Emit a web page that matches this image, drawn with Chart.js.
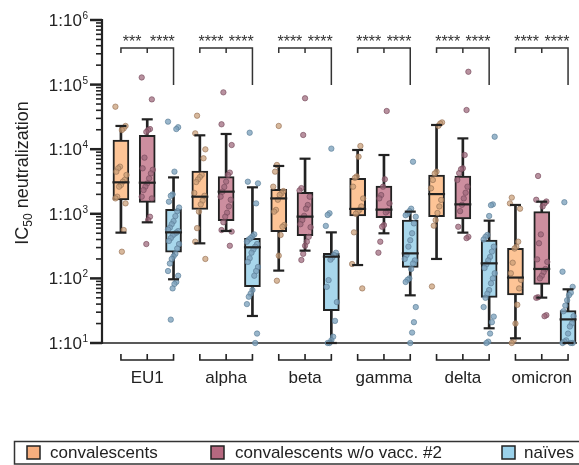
<!DOCTYPE html>
<html><head><meta charset="utf-8">
<script src="https://cdn.jsdelivr.net/npm/chart.js@4/dist/chart.umd.min.js"></script>
<style>html,body{margin:0;padding:0;background:#fff;}</style>
</head><body>
<canvas id="c" width="579" height="465"></canvas>
<script>
// ---------- data ----------
const variants = ['EU1', 'alpha', 'beta', 'gamma', 'delta', 'omicron'];
const groupNames = ['convalescents', 'convalescents w/o vacc. #2', 'naïves'];
const yTickExponents = [1, 2, 3, 4, 5, 6];
const significance = [['***', '****'], ['****', '****'], ['****', '****'], ['****', '****'], ['****', '****'], ['****', '****']];

// box stats per variant: [whisker low, Q1, median, Q3, whisker high]
const convBox = [
  [511, 1640, 3070, 13900, 22900],
  [349, 1170, 1840, 4590, 16400],
  [132, 528, 1730, 2390, 5500],
  [161, 925, 1190, 3540, 9720],
  [200, 904, 2020, 3990, 23700],
  [11.8, 55.3, 103, 292, 1370]
];
const convWoBox = [
  [738, 1500, 3030, 16400, 29000],
  [542, 783, 2200, 3760, 17200],
  [269, 459, 904, 2150, 7130],
  [499, 871, 1160, 2690, 8130],
  [511, 832, 1400, 3850, 14700],
  [50.4, 81, 140, 1080, 1540]
];
const naiveBox = [
  [96.9, 254, 516, 1170, 3660],
  [26.2, 74.5, 303, 417, 2570],
  [10, 31.7, 217, 244, 516],
  [54.7, 148, 244, 802, 1080],
  [16.9, 50.9, 171, 393, 783],
  [10, 10, 23.2, 31.7, 67.8]
];

// individual IC50 values per variant
const convPoints = [
  [45500, 22900, 21000, 19800, 5370, 5060, 4490, 3990, 3340, 3140, 2790, 2630, 1840, 1730, 1450, 561, 259],
  [33000, 17600, 9950, 7230, 4000, 3700, 3400, 3100, 2100, 1900, 1600, 1400, 1080, 600, 370, 200],
  [22900, 5700, 4490, 2630, 2250, 2070, 1960, 1650, 1150, 1080, 670, 630, 470, 225, 92],
  [11200, 7660, 3800, 3600, 2630, 1730, 1300, 1150, 1080, 1000, 516, 167, 70],
  [26000, 25000, 23000, 4490, 4200, 3340, 2480, 1640, 1300, 1030, 800, 655, 75],
  [1780, 1450, 1200, 370, 310, 290, 175, 120, 95, 70, 39, 20, 11, 10]
];
const convWoPoints = [
  [129000, 59000, 20500, 19800, 18500, 7400, 5060, 4800, 4230, 3540, 2960, 2630, 2330, 1840, 1730, 900, 800, 340],
  [75900, 24300, 11600, 4340, 4000, 3150, 2600, 2200, 1840, 1650, 1300, 1040, 900, 740, 560, 530, 320],
  [61400, 16600, 2500, 2300, 1840, 1370, 1200, 930, 800, 690, 620, 440, 370, 320, 240, 193],
  [39000, 3420, 2630, 1950, 1730, 1450, 1110, 1050, 670, 630, 370, 250],
  [158000, 40400, 8130, 5060, 4900, 4260, 3340, 2630, 2120, 1730, 1380, 1100, 630, 440, 420],
  [3850, 1650, 1550, 1450, 1300, 480, 350, 197, 180, 140, 125, 110, 100, 51, 50, 27, 26]
];
const naivePoints = [
  [26700, 21900, 20500, 4490, 2000, 1900, 1540, 1250, 1100, 920, 770, 690, 610, 570, 540, 510, 490, 460, 420, 380, 340, 290, 240, 220, 200, 170, 130, 110, 88, 82, 70, 23],
  [18000, 3140, 2960, 1450, 480, 450, 420, 400, 370, 340, 310, 280, 250, 205, 180, 150, 130, 110, 66, 58, 52, 40, 14, 10],
  [10200, 1020, 960, 650, 250, 230, 210, 195, 94, 74, 43, 22, 12.5, 11, 10, 10],
  [6400, 1200, 1100, 1000, 950, 900, 710, 500, 390, 310, 230, 200, 190, 170, 140, 100, 95, 88, 36, 21, 14.5, 10],
  [15600, 1400, 1360, 925, 470, 440, 400, 310, 260, 215, 190, 165, 145, 120, 100, 84, 66, 58, 50, 36, 25.6, 21, 14, 10.5, 10],
  [1510, 127, 74, 60, 55, 46, 38, 31, 26, 20, 18, 14, 11, 10.5, 10, 10, 10]
];

// ---------- styling ----------
const FONT = '"Liberation Sans", Arial, sans-serif';
const INK = '#222222';
const boxFill = ['#FDC496', '#CD8E9F', '#A8D7EC'];
const legendFill = ['#F7AE7E', '#B66880', '#9AD1EA'];
const ptFill = ['rgba(200,156,118,0.72)', 'rgba(156,102,122,0.72)', 'rgba(124,162,188,0.78)'];
const ptBorder = ['rgba(150,112,84,0.8)', 'rgba(118,74,92,0.8)', 'rgba(90,124,150,0.8)'];

const boxes = [convBox, convWoBox, naiveBox];
const points = [convPoints, convWoPoints, naivePoints];

function slot(v, g) { return v * 3 + g; }
function jitter(i) { return ((((i * 37) % 13) / 12) - 0.5) * 0.42; }

const datasets = [];
for (let g = 0; g < 3; g++) {
  datasets.push({
    type: 'bar', order: 20,
    data: boxes[g].map((b, v) => ({ x: slot(v, g), y: [b[0], b[4]] })),
    backgroundColor: INK, borderWidth: 0, barThickness: 2, grouped: false
  });
  datasets.push({
    type: 'bar', order: 15,
    data: boxes[g].map((b, v) => ({ x: slot(v, g), y: [b[1], b[3]] })),
    backgroundColor: boxFill[g], borderColor: INK, borderWidth: 2,
    borderSkipped: false, barThickness: 16, grouped: false
  });
  const pts = [];
  points[g].forEach((arr, v) => arr.forEach((val, i) => pts.push({ x: slot(v, g) + jitter(i + v * 5), y: val })));
  datasets.push({
    type: 'scatter', order: 10, data: pts, clip: false,
    pointRadius: 2.7, backgroundColor: ptFill[g], borderColor: ptBorder[g], borderWidth: 0.8
  });
  datasets.push({
    type: 'scatter', order: 5, clip: false,
    data: boxes[g].map((b, v) => ({ x: slot(v, g), y: b[2] })),
    pointStyle: 'line', pointRadius: 8.5, borderColor: INK, borderWidth: 2.2
  });
  const caps = [];
  boxes[g].forEach((b, v) => { caps.push({ x: slot(v, g), y: b[0] }); caps.push({ x: slot(v, g), y: b[4] }); });
  datasets.push({
    type: 'scatter', order: 5, clip: false, data: caps,
    pointStyle: 'line', pointRadius: 5.5, borderColor: INK, borderWidth: 2.2
  });
}

const decor = {
  id: 'decor',
  beforeDatasetsDraw(chart) {
    const ctx = chart.ctx, ys = chart.scales.y, ca = chart.chartArea;
    ctx.save();
    ctx.strokeStyle = INK; ctx.fillStyle = INK;
    ctx.lineWidth = 1.5;
    ctx.beginPath(); ctx.moveTo(ca.left, ca.bottom); ctx.lineTo(ca.right, ca.bottom); ctx.stroke();
    ctx.lineWidth = 2.2;
    ctx.beginPath(); ctx.moveTo(ca.left, ca.top - 1); ctx.lineTo(ca.left, ca.bottom + 1); ctx.stroke();
    yTickExponents.forEach((e, k) => {
      const y = ys.getPixelForValue(Math.pow(10, e));
      ctx.lineWidth = 2.5;
      ctx.beginPath(); ctx.moveTo(ca.left - 12, y); ctx.lineTo(ca.left, y); ctx.stroke();
      if (k < yTickExponents.length - 1) {
        ctx.lineWidth = 1.6;
        for (let m = 2; m <= 9; m++) {
          const ym = ys.getPixelForValue(m * Math.pow(10, e));
          ctx.beginPath(); ctx.moveTo(ca.left - 6, ym); ctx.lineTo(ca.left, ym); ctx.stroke();
        }
      }
      const right = ca.left - 14;
      ctx.font = '10px ' + FONT;
      const ew = ctx.measureText(String(e)).width;
      ctx.textAlign = 'left'; ctx.textBaseline = 'alphabetic';
      ctx.fillText(String(e), right - ew, y - 1);
      ctx.font = '17px ' + FONT;
      ctx.textAlign = 'right';
      ctx.fillText('1:10', right - ew - 0.5, y + 6);
    });
    ctx.restore();
  },
  afterDraw(chart) {
    const ctx = chart.ctx, xs = chart.scales.x;
    ctx.save();
    ctx.strokeStyle = INK; ctx.fillStyle = INK;
    // y title
    ctx.save();
    ctx.translate(28, 173);
    ctx.rotate(-Math.PI / 2);
    ctx.font = '18px ' + FONT;
    const w1 = ctx.measureText('IC').width;
    ctx.font = '12px ' + FONT;
    const w2 = ctx.measureText('50').width;
    ctx.font = '18px ' + FONT;
    const w3 = ctx.measureText(' neutralization').width;
    const x0 = -(w1 + w2 + w3) / 2;
    ctx.textAlign = 'left'; ctx.textBaseline = 'alphabetic';
    ctx.fillText('IC', x0, 0);
    ctx.font = '12px ' + FONT;
    ctx.fillText('50', x0 + w1, 4);
    ctx.font = '18px ' + FONT;
    ctx.fillText(' neutralization', x0 + w1 + w2, 0);
    ctx.restore();
    variants.forEach((name, v) => {
      const xa = xs.getPixelForValue(slot(v, 0));
      const xm = xs.getPixelForValue(slot(v, 1));
      const xb = xs.getPixelForValue(slot(v, 2));
      ctx.strokeStyle = INK;
      ctx.lineWidth = 1.6;
      ctx.beginPath();
      ctx.moveTo(xa, 354); ctx.lineTo(xa, 360); ctx.lineTo(xb, 360); ctx.lineTo(xb, 354);
      ctx.moveTo(xm, 354); ctx.lineTo(xm, 360);
      ctx.stroke();
      ctx.fillStyle = INK;
      ctx.font = '17px ' + FONT;
      ctx.textAlign = 'center'; ctx.textBaseline = 'middle';
      ctx.fillText(name, xm, 378);
      // significance
      ctx.lineWidth = 1.5;
      ctx.strokeStyle = '#333';
      ctx.beginPath();
      ctx.moveTo(xa, 53); ctx.lineTo(xa, 48); ctx.lineTo(xb, 48); ctx.lineTo(xb, 85);
      ctx.moveTo(xm, 48); ctx.lineTo(xm, 53);
      ctx.stroke();
      ctx.font = '16px ' + FONT;
      ctx.fillStyle = '#333';
      ctx.textBaseline = 'alphabetic';
      ctx.fillText(significance[v][0], (xa + xm) / 2 - 2, 47);
      ctx.fillText(significance[v][1], (xm + xb) / 2 + 2, 47);
    });
    // legend
    ctx.lineWidth = 1.5;
    ctx.strokeStyle = '#333';
    ctx.strokeRect(14.5, 441.5, 600, 22.5);
    const lx = [27, 211, 502];
    const tx = [50, 235, 524];
    groupNames.forEach((n, g) => {
      ctx.fillStyle = legendFill[g];
      ctx.fillRect(lx[g], 446, 13, 13);
      ctx.strokeStyle = INK; ctx.lineWidth = 1.5;
      ctx.strokeRect(lx[g], 446, 13, 13);
      ctx.fillStyle = INK;
      ctx.font = '17px ' + FONT;
      ctx.textAlign = 'left'; ctx.textBaseline = 'middle';
      ctx.fillText(n, tx[g], 453);
    });
    ctx.restore();
  }
};

new Chart(document.getElementById('c'), {
  type: 'bar',
  data: { datasets },
  options: {
    responsive: false, animation: false, devicePixelRatio: 1,
    layout: { autoPadding: false, padding: { left: 102, right: 2, top: 20, bottom: 122 } },
    plugins: { legend: { display: false }, tooltip: { enabled: false } },
    scales: {
      x: { type: 'linear', min: -0.72, max: 17.34, offset: false, display: false },
      y: { type: 'logarithmic', min: 10, max: 1e6, display: false }
    }
  },
  plugins: [decor]
});
</script>
</body></html>
